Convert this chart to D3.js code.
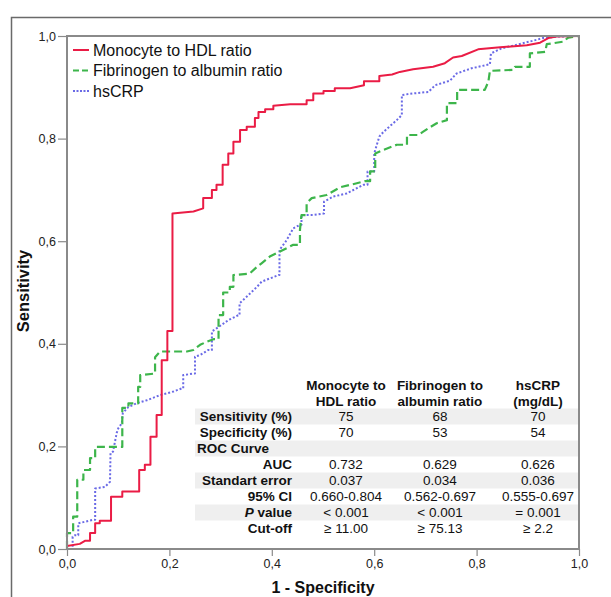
<!DOCTYPE html>
<html>
<head>
<meta charset="utf-8">
<script src="https://cdn.jsdelivr.net/npm/d3@7"></script>
<style>
  body { margin: 0; background: #fff; }
  text { font-family: "Liberation Sans", Arial, sans-serif; }
</style>
</head>
<body>
<script>
// ROC curves, [1 - specificity, sensitivity]
var mhr = [
  [0,0],[0,0.006],[0.025,0.010],[0.035,0.016],[0.045,0.016],[0.045,0.031],[0.055,0.031],[0.055,0.050],
  [0.064,0.050],[0.064,0.055],[0.086,0.055],[0.086,0.102],[0.108,0.102],[0.108,0.112],[0.141,0.112],
  [0.141,0.154],[0.152,0.154],[0.152,0.164],[0.163,0.164],[0.163,0.219],[0.175,0.219],[0.175,0.261],
  [0.185,0.261],[0.185,0.368],[0.196,0.368],[0.196,0.425],[0.206,0.425],[0.206,0.654],[0.247,0.658],
  [0.266,0.664],[0.266,0.684],[0.283,0.684],[0.283,0.700],[0.292,0.700],[0.292,0.710],[0.304,0.710],
  [0.304,0.749],[0.315,0.749],[0.315,0.771],[0.325,0.771],[0.325,0.794],[0.338,0.794],[0.338,0.817],
  [0.351,0.817],[0.351,0.823],[0.367,0.823],[0.367,0.840],[0.374,0.840],[0.374,0.852],[0.387,0.852],
  [0.387,0.857],[0.403,0.857],[0.403,0.864],[0.436,0.867],[0.468,0.867],[0.468,0.875],[0.481,0.875],
  [0.481,0.888],[0.501,0.888],[0.501,0.893],[0.523,0.893],[0.523,0.898],[0.553,0.898],[0.58,0.904],
  [0.58,0.912],[0.61,0.912],[0.61,0.922],[0.635,0.925],[0.65,0.930],[0.676,0.935],[0.715,0.940],
  [0.738,0.947],[0.754,0.958],[0.771,0.961],[0.803,0.974],[0.846,0.978],[0.898,0.982],[0.924,0.987],
  [0.940,0.996],[0.956,0.999],[1,1]
]
var far = [
  [0,0],[0,0.031],[0.012,0.031],[0.012,0.063],[0.020,0.063],[0.020,0.135],[0.032,0.135],[0.032,0.154],
  [0.045,0.154],[0.045,0.177],[0.055,0.177],[0.055,0.199],[0.108,0.199],[0.108,0.275],[0.120,0.275],
  [0.120,0.284],[0.139,0.284],[0.139,0.316],[0.143,0.316],[0.143,0.339],[0.172,0.342],[0.172,0.374],
  [0.182,0.385],[0.234,0.385],[0.247,0.388],[0.260,0.398],[0.273,0.404],[0.286,0.409],[0.296,0.409],
  [0.296,0.456],[0.305,0.456],[0.305,0.500],[0.318,0.500],[0.318,0.511],[0.325,0.511],[0.325,0.534],
  [0.357,0.537],[0.371,0.550],[0.380,0.557],[0.396,0.570],[0.416,0.580],[0.442,0.593],[0.455,0.593],
  [0.455,0.622],[0.458,0.651],[0.468,0.651],[0.468,0.674],[0.478,0.684],[0.507,0.690],[0.533,0.705],
  [0.566,0.713],[0.582,0.717],[0.592,0.717],[0.592,0.736],[0.602,0.736],[0.602,0.771],[0.618,0.778],
  [0.644,0.788],[0.664,0.788],[0.664,0.807],[0.686,0.807],[0.695,0.813],[0.709,0.822],[0.722,0.830],
  [0.742,0.836],[0.742,0.869],[0.762,0.869],[0.762,0.895],[0.816,0.895],[0.823,0.911],[0.826,0.932],
  [0.872,0.934],[0.875,0.940],[0.904,0.940],[0.904,0.966],[0.934,0.969],[0.937,0.984],[0.969,0.989],
  [0.979,0.997],[1,1]
]
var crp = [
  [0,0],[0.011,0],[0.011,0.024],[0.016,0.027],[0.022,0.027],[0.022,0.050],[0.051,0.057],[0.055,0.057],
  [0.055,0.118],[0.074,0.121],[0.084,0.131],[0.085,0.187],[0.090,0.190],[0.097,0.226],[0.100,0.235],
  [0.107,0.245],[0.109,0.265],[0.120,0.277],[0.136,0.284],[0.156,0.290],[0.182,0.300],[0.208,0.307],
  [0.224,0.313],[0.227,0.313],[0.227,0.339],[0.247,0.342],[0.250,0.342],[0.250,0.375],[0.260,0.378],
  [0.276,0.388],[0.283,0.388],[0.283,0.424],[0.292,0.430],[0.315,0.446],[0.335,0.456],[0.337,0.456],
  [0.337,0.479],[0.348,0.489],[0.371,0.511],[0.380,0.521],[0.413,0.534],[0.415,0.534],[0.415,0.583],
  [0.429,0.602],[0.442,0.625],[0.455,0.632],[0.458,0.632],[0.458,0.651],[0.481,0.651],[0.501,0.654],
  [0.502,0.654],[0.502,0.677],[0.520,0.687],[0.546,0.693],[0.579,0.710],[0.587,0.710],[0.587,0.736],
  [0.600,0.736],[0.600,0.771],[0.610,0.804],[0.618,0.813],[0.644,0.836],[0.654,0.846],[0.654,0.885],
  [0.676,0.888],[0.706,0.891],[0.719,0.904],[0.748,0.913],[0.761,0.927],[0.790,0.937],[0.826,0.945],
  [0.828,0.966],[0.849,0.976],[0.875,0.982],[0.911,0.991],[0.930,0.996],[0.960,0.999],[1,1]
]

var seriesNames = ['Monocyte to HDL ratio', 'Fibrinogen to albumin ratio', 'hsCRP']
var ticks = [0, 0.2, 0.4, 0.6, 0.8, 1.0]

// table
var colHeads = [['Monocyte to', 'HDL ratio'], ['Fibrinogen to', 'albumin ratio'], ['hsCRP', '(mg/dL)']]
var rowLabels = ['Sensitivity (%)', 'Specificity (%)', 'ROC Curve', 'AUC', 'Standart error', '95% CI', 'P value', 'Cut-off']
var rowValues = [
  ['75', '68', '70'],
  ['70', '53', '54'],
  ['', '', ''],
  ['0.732', '0.629', '0.626'],
  ['0.037', '0.034', '0.036'],
  ['0.660-0.804', '0.562-0.697', '0.555-0.697'],
  ['< 0.001', '< 0.001', '= 0.001'],
  ['\u2265 11.00', '\u2265 75.13', '\u2265 2.2']
]

var width = 611, height = 597
var pLeft = 67, pRight = 579, pTop = 36, pBottom = 549

var svg = d3.select('body').append('svg')
  .attr('width', width)
  .attr('height', height)

// outer frame
svg.append('path')
  .attr('d', 'M 11.5 ' + (height + 5) + ' L 11.5 17.5 L ' + (width + 5) + ' 17.5')
  .attr('fill', 'none')
  .attr('stroke', '#6a6a6a')
  .attr('stroke-width', 1.5)

var x = d3.scaleLinear().domain([0, 1]).range([pLeft, pRight])
var y = d3.scaleLinear().domain([0, 1]).range([pBottom, pTop])
var fmt = d => d3.format('.1f')(d).replace('.', ',')

var xAxis = svg.append('g')
  .attr('transform', 'translate(0,' + pBottom + ')')
  .call(d3.axisBottom(x).tickValues(ticks).tickFormat(fmt).tickSize(7).tickPadding(3))
var yAxis = svg.append('g')
  .attr('transform', 'translate(' + pLeft + ',0)')
  .call(d3.axisLeft(y).tickValues(ticks).tickFormat(fmt).tickSize(9).tickPadding(2))

;[xAxis, yAxis].forEach(a => {
  a.select('.domain').remove()
  a.selectAll('line').attr('stroke', '#8a8a8a').attr('stroke-width', 1.2)
  a.selectAll('text').attr('fill', '#222').style('font-size', '12.5px')
    .style('font-family', '"Liberation Sans", Arial, sans-serif')
})

// shaded table rows
var rowY = d3.scaleLinear().domain([0, 1]).range([416.5, 432.5])
var colX = [346, 440, 538]
var labelX = 292

svg.selectAll('rect.shade')
  .data(rowLabels.filter((d, i) => i % 2 === 0))
  .enter()
  .append('rect')
  .attr('class', 'shade')
  .attr('x', 195)
  .attr('y', (d, i) => rowY(i * 2) - 8)
  .attr('width', 383)
  .attr('height', 16)
  .attr('fill', '#efefef')

// curves
var line = d3.line().x(d => x(d[0])).y(d => y(d[1]))
var styles = [
  { color: '#ea1c45', dash: null, width: 2 },
  { color: '#3db54b', dash: '8,4', width: 2.2 },
  { color: '#6a6ae6', dash: '2,2', width: 2 }
]
var curves = [mhr, far, crp]
;[2, 1, 0].forEach(i => {
  svg.append('path')
    .datum(curves[i])
    .attr('d', line)
    .attr('fill', 'none')
    .attr('stroke', styles[i].color)
    .attr('stroke-width', styles[i].width)
    .attr('stroke-dasharray', styles[i].dash)
    .attr('stroke-linejoin', 'round')
})

// plot frame
svg.append('rect')
  .attr('x', pLeft)
  .attr('y', pTop)
  .attr('width', pRight - pLeft)
  .attr('height', pBottom - pTop)
  .attr('fill', 'none')
  .attr('stroke', '#8a8a8a')
  .attr('stroke-width', 2)

// legend
var legend = svg.selectAll('g.leg')
  .data(seriesNames)
  .enter()
  .append('g')
  .attr('class', 'leg')
  .attr('transform', (d, i) => 'translate(73,' + (50 + i * 20.5) + ')')
legend.append('line')
  .attr('x1', 0).attr('x2', 16)
  .attr('stroke', (d, i) => styles[i].color)
  .attr('stroke-width', 2)
  .attr('stroke-dasharray', (d, i) => i === 1 ? '6,3' : i === 2 ? '2,1.5' : null)
legend.append('text')
  .attr('x', 20)
  .attr('dy', '0.36em')
  .style('font-size', '16px')
  .attr('fill', '#111')
  .text(d => d)

// table text
var tbl = svg.append('g').style('font-size', '13.5px').attr('fill', '#111')
colHeads.forEach((h, c) => {
  h.forEach((t, k) => {
    tbl.append('text')
      .attr('x', colX[c])
      .attr('y', 385 + k * 16.5)
      .attr('dy', '0.36em')
      .attr('text-anchor', 'middle')
      .attr('font-weight', 'bold')
      .text(t)
  })
})
rowLabels.forEach((r, i) => {
  var t = tbl.append('text')
    .attr('y', rowY(i))
    .attr('dy', '0.36em')
    .attr('font-weight', 'bold')
  if (r === 'ROC Curve') {
    t.attr('x', 197).text(r)
  } else if (r === 'P value') {
    t.attr('x', labelX).attr('text-anchor', 'end')
    t.append('tspan').attr('font-style', 'italic').text('P')
    t.append('tspan').text(' value')
  } else {
    t.attr('x', labelX).attr('text-anchor', 'end').text(r)
  }
  rowValues[i].forEach((v, c) => {
    tbl.append('text')
      .attr('x', colX[c])
      .attr('y', rowY(i))
      .attr('dy', '0.36em')
      .attr('text-anchor', 'middle')
      .text(v)
  })
})

// axis titles
svg.append('text')
  .attr('x', x(0.5))
  .attr('y', 587)
  .attr('dy', '0.36em')
  .attr('text-anchor', 'middle')
  .attr('font-weight', 'bold')
  .style('font-size', '16px')
  .attr('fill', '#111')
  .text('1 - Specificity')
svg.append('text')
  .attr('transform', 'translate(23,' + 291 + ') rotate(-90)')
  .attr('dy', '0.36em')
  .attr('text-anchor', 'middle')
  .attr('font-weight', 'bold')
  .style('font-size', '16.5px')
  .attr('fill', '#111')
  .text('Sensitivity')
</script>
</body>
</html>
